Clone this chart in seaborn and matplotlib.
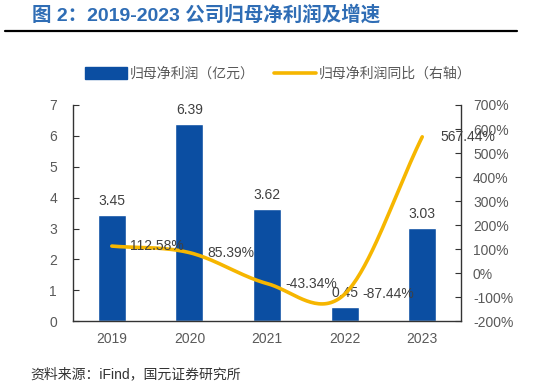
import numpy as np
import pandas as pd
import matplotlib
matplotlib.use("Agg")
import matplotlib.pyplot as plt
import seaborn as sns
from matplotlib.patches import Patch
from matplotlib.lines import Line2D
from matplotlib.ticker import FuncFormatter, MultipleLocator

# Data
years = ["2019", "2020", "2021", "2022", "2023"]
profit = [3.45, 6.39, 3.62, 0.45, 3.03]          # 亿元
growth = [112.58, 85.39, -43.34, -87.44, 567.44]  # %

BAR_COLOR = "#0B4EA2"
LINE_COLOR = "#F6B600"
TEXT_COLOR = "#595959"
LABEL_COLOR = "#404040"

sns.set_style("white")
plt.rcParams["font.family"] = ["Liberation Sans", "Noto Sans CJK SC", "DejaVu Sans"]
plt.rcParams["axes.unicode_minus"] = False


def smooth_curve(y, n=40):
    """ Catmull-Rom style smoothing, only for drawing the line """
    y = np.asarray(y, dtype=float)
    m = np.gradient(y)
    xs, ys = [], []
    for i in range(len(y) - 1):
        t = np.linspace(0, 1, n)
        h00 = 2 * t**3 - 3 * t**2 + 1
        h10 = t**3 - 2 * t**2 + t
        h01 = -2 * t**3 + 3 * t**2
        h11 = t**3 - t**2
        xs.append(i + t)
        ys.append(h00 * y[i] + h10 * m[i] + h01 * y[i + 1] + h11 * m[i + 1])
    return np.concatenate(xs), np.concatenate(ys)


df = pd.DataFrame({"year": years, "profit": profit, "growth": growth})

fig = plt.figure(figsize=(5.33, 3.86), dpi=100)
ax = fig.add_axes([0.137, 0.168, 0.728, 0.560])

sns.barplot(data=df, x="year", y="profit", color=BAR_COLOR, width=0.36,
            saturation=1, ax=ax)
ax.set_xlim(-0.5, 4.5)
ax.set_ylim(0, 7)
ax.set_xlabel("")
ax.set_ylabel("")
ax.yaxis.set_major_locator(MultipleLocator(1))

for i, v in enumerate(profit):
    ax.annotate(f"{v:.2f}", (i, v), xytext=(0, 10), textcoords="offset points",
                ha="center", va="center", fontsize=10, color=LABEL_COLOR)

ax2 = ax.twinx()
sx, sy = smooth_curve(growth)
sns.lineplot(x=sx, y=sy, color=LINE_COLOR, linewidth=2.6, ax=ax2, sort=False)
ax2.set_ylim(-200, 700)
ax2.yaxis.set_major_locator(MultipleLocator(100))
ax2.yaxis.set_major_formatter(FuncFormatter(lambda v, p: f"{v:.0f}%"))

for i, v in enumerate(growth):
    ax2.annotate(f"{v:.2f}%", (i, v), xytext=(13, 0), textcoords="offset points",
                 ha="left", va="center", fontsize=10, color=LABEL_COLOR)

# spines and ticks
for a in (ax, ax2):
    a.spines["top"].set_visible(False)
    for s in ("left", "right", "bottom"):
        a.spines[s].set_color("#333333")
        a.spines[s].set_linewidth(1.0)
ax.spines["right"].set_visible(False)
ax2.spines["left"].set_visible(False)
ax2.spines["bottom"].set_visible(False)

ax.tick_params(axis="y", direction="in", length=4, color="#333333",
               labelsize=10, labelcolor=TEXT_COLOR, pad=11.5)
ax2.tick_params(axis="y", direction="in", length=4, color="#333333",
                labelsize=10, labelcolor=TEXT_COLOR, pad=8.6)
ax.set_xticks(np.arange(-0.5, 5, 1), minor=True)
ax.tick_params(axis="x", which="major", length=0, labelsize=10,
               labelcolor=TEXT_COLOR, pad=8)
ax.tick_params(axis="x", which="minor", direction="in", length=4, color="#333333")

# legend
handles = [Patch(facecolor=BAR_COLOR, edgecolor=BAR_COLOR),
           Line2D([0], [0], color=LINE_COLOR, linewidth=2.6)]
fig.legend(handles, ["归母净利润（亿元）", "归母净利润同比（右轴）"],
           loc="center", bbox_to_anchor=(0.522, 1 - 74 / 386), ncol=2,
           frameon=False, fontsize=10, handlelength=3.0, handleheight=1.0,
           handletextpad=0.2, columnspacing=1.4, labelcolor=TEXT_COLOR)

# title, rule and source
fig.text(32 / 533, 1 - 15 / 386, "图 2：2019-2023 公司归母净利润及增速",
         fontsize=14, fontweight="bold", color="#2F6DB5", va="center", ha="left")
fig.add_artist(Line2D([5 / 533, 517 / 533], [1 - 31 / 386, 1 - 31 / 386],
                      color="black", linewidth=1.6, transform=fig.transFigure))
fig.text(30 / 533, 1 - 374 / 386, "资料来源：iFind，国元证券研究所",
         fontsize=10, color="#333333", va="center", ha="left")

fig.savefig("out.png", dpi=100)
